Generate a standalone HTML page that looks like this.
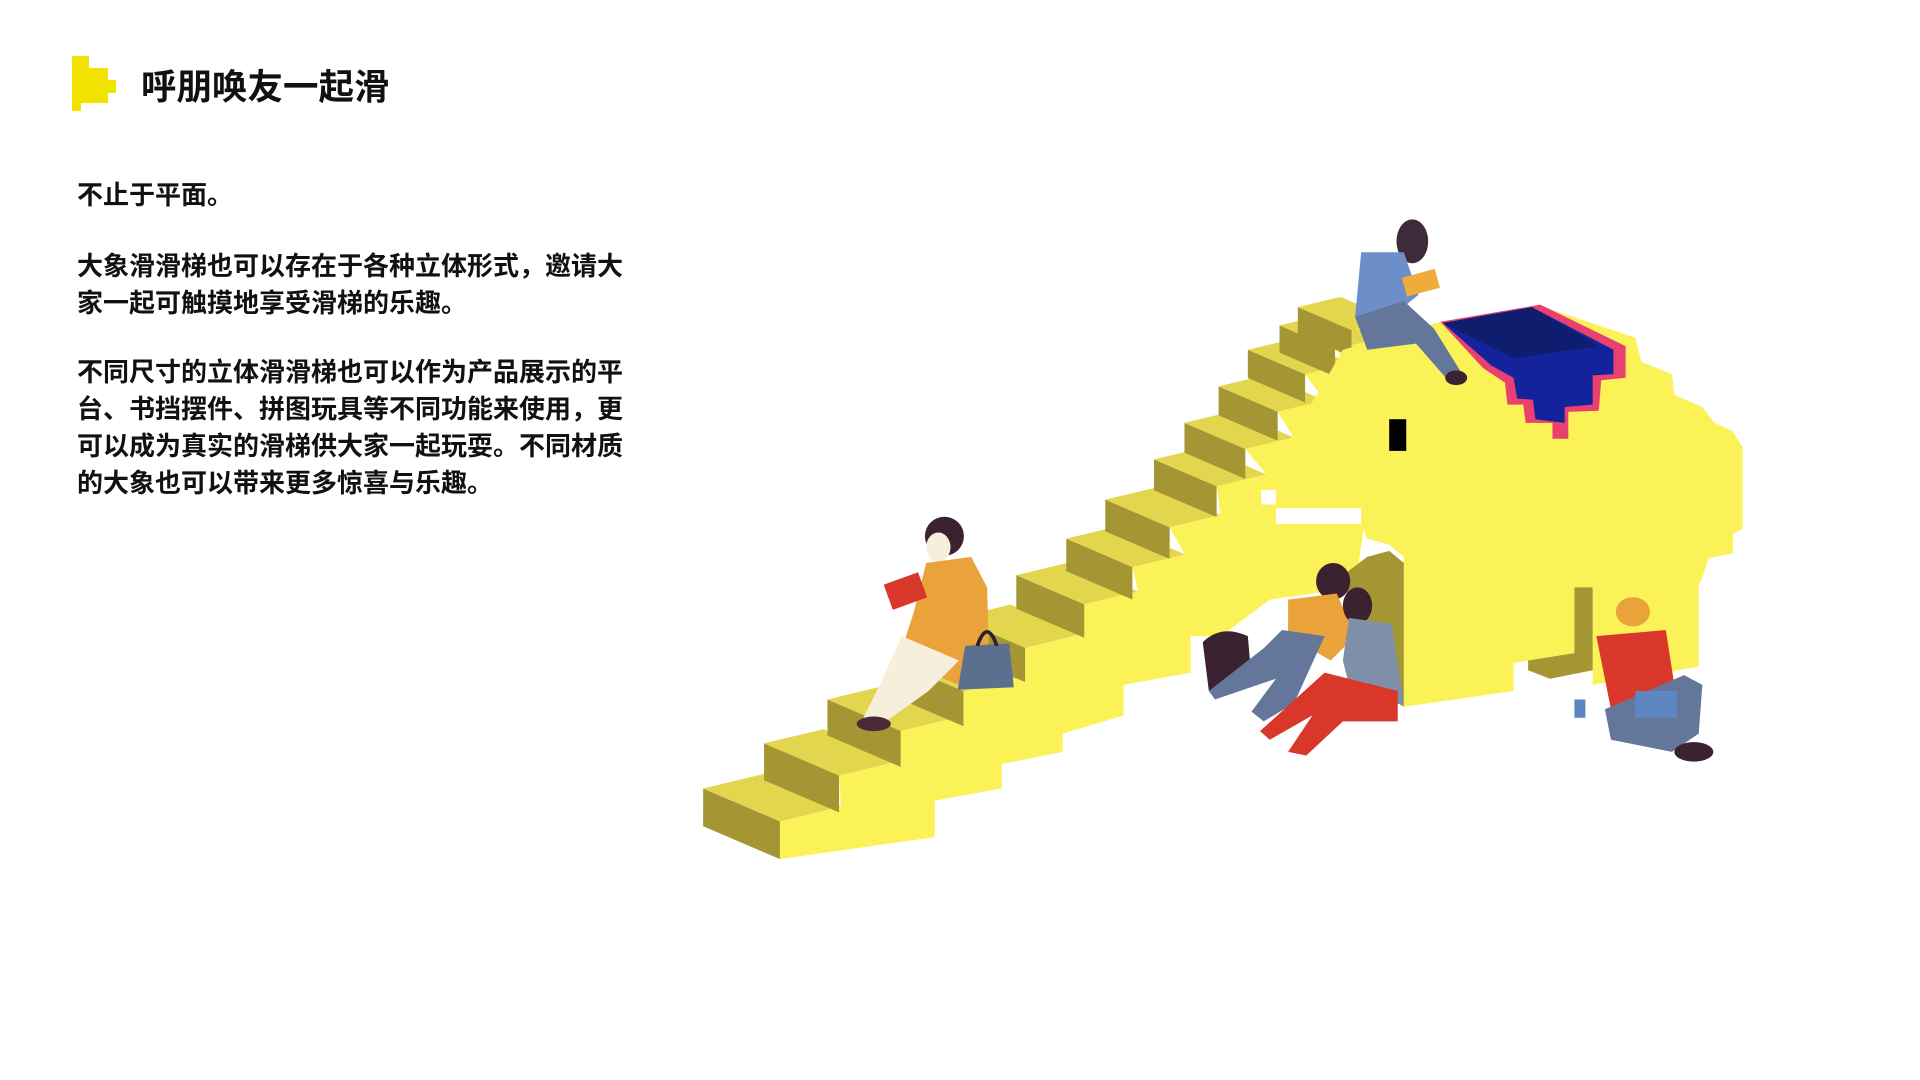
<!DOCTYPE html>
<html><head><meta charset="utf-8"><style>
html,body{margin:0;padding:0;background:#fff;}
body{width:1920px;height:1080px;position:relative;overflow:hidden;font-family:"Liberation Sans","Noto Sans CJK SC",sans-serif;}
.t{position:absolute;left:77px;font-size:26px;font-weight:bold;color:#111;white-space:nowrap;line-height:37px;}
</style></head><body>
<div style="position:absolute;left:0;top:0;">
<div style="position:absolute;left:72px;top:56px;width:17px;height:47px;background:#f2e200"></div>
<div style="position:absolute;left:72px;top:103px;width:9px;height:8px;background:#f2e200"></div>
<div style="position:absolute;left:89px;top:68px;width:19px;height:35px;background:#f2e200"></div>
<div style="position:absolute;left:108px;top:80px;width:8px;height:13px;background:#f2e200"></div>
</div>
<div style="position:absolute;left:141px;top:64px;font-size:35.5px;font-weight:bold;color:#111;white-space:nowrap;line-height:46px;">呼朋唤友一起滑</div>
<div class="t" style="top:177px">不止于平面。</div>
<div class="t" style="top:248px">大象滑滑梯也可以存在于各种立体形式，邀请大<br>家一起可触摸地享受滑梯的乐趣。</div>
<div class="t" style="top:354px">不同尺寸的立体滑滑梯也可以作为产品展示的平<br>台、书挡摆件、拼图玩具等不同功能来使用，更<br>可以成为真实的滑梯供大家一起玩耍。不同材质<br>的大象也可以带来更多惊喜与乐趣。</div>

<svg style="position:absolute;left:0;top:0" width="1920" height="1080" viewBox="0 0 1552 873" preserveAspectRatio="none">
<g transform="translate(2,2) scale(0.985)">
<g id="stairs"></g>
<g>
<polygon fill="#fbf257" points="1100,285 1180,262 1265,250 1340,275 1345,295 1370,305 1372,322 1395,332 1405,345 1420,352 1428,365 1428,432 1420,436 1420,452 1400,456 1395,472 1392,478 1392,545 1305,560 1305,480 1290,480 1290,534 1240,542 1240,565 1150,578 1150,455 1138,445 1120,440 1115,428 1045,428 1045,415 1030,410 1030,395 1050,385 1060,350 1080,320"/>
<polygon fill="#a39633" points="1252,540 1290,534 1290,480 1305,480 1305,548 1270,555 1252,548"/>
<polygon fill="#a39633" points="1100,470 1120,455 1138,450 1150,460 1150,578 1120,560"/>
<rect x="1045" y="415" width="70" height="13" fill="#fff"/>
<rect x="1033" y="400" width="12" height="12" fill="#fff"/>
<rect x="1138" y="342" width="14" height="26" fill="#000"/>
<polygon fill="#e8416f" points="1180,262 1262,248 1332,282 1332,308 1312,310 1310,335 1285,336 1285,358 1272,358 1272,345 1250,345 1248,330 1235,330 1233,312 1215,300"/>
<polygon fill="#13239c" points="1182,263 1255,250 1322,285 1322,305 1305,306 1305,330 1282,332 1282,345 1258,342 1256,326 1243,325 1240,308 1222,298"/>
<polygon fill="#0f1d6e" points="1182,263 1255,250 1310,282 1240,292"/>
</g>
<g>
<ellipse cx="1157" cy="196" rx="13" ry="18" fill="#3f2a3a"/>
<path d="M1115,205 L1150,205 L1162,240 L1135,262 L1110,258 Z" fill="#6d8fc9"/>
<path d="M1110,258 L1150,245 L1175,268 L1198,305 L1188,312 L1160,280 L1120,285 Z" fill="#64769a"/>
<rect x="1150" y="222" width="28" height="16" fill="#eeac3a" transform="rotate(-15 1164 230)"/>
<ellipse cx="1193" cy="308" rx="9" ry="6" fill="#3a2230"/>
</g>
<g>
<ellipse cx="773" cy="438" rx="16" ry="16" fill="#3a2230"/>
<ellipse cx="768" cy="447" rx="10" ry="12" fill="#f5efdc"/>
<path d="M758,460 L795,455 L808,480 L810,545 L785,560 L735,540 L748,500 Z" fill="#eaa33a"/>
<path d="M738,520 L785,540 L760,565 L722,592 L706,588 L720,560 Z" fill="#f5efdc"/>
<rect x="726" y="472" width="30" height="22" fill="#d9372a" transform="rotate(-20 741 483)"/>
<ellipse cx="715" cy="592" rx="14" ry="6" fill="#4a2a3a"/>
<path d="M790,528 L826,526 L830,562 L784,564 Z" fill="#5b6f8e"/>
<path d="M800,528 Q808,505 816,528" stroke="#2a2030" stroke-width="3" fill="none"/>
</g>
<g>
<path d="M985,525 Q1000,510 1022,520 L1025,555 L990,565 Z" fill="#3a2230"/>
<ellipse cx="1092" cy="475" rx="14" ry="15" fill="#3a2230"/>
<path d="M1055,490 L1095,485 L1110,520 L1090,540 L1055,520 Z" fill="#eaa33a"/>
<path d="M1050,515 L1085,520 L1060,575 L1035,590 L1025,582 L1045,555 L995,572 L990,565 L1035,530 Z" fill="#64769a"/>
<ellipse cx="1112" cy="495" rx="12" ry="15" fill="#3a2230"/>
<path d="M1105,505 L1140,510 L1150,575 L1110,580 L1100,540 Z" fill="#7f8fa8"/>
<path d="M1085,550 L1145,565 L1145,590 L1100,590 L1070,618 L1055,615 L1075,585 L1040,605 L1032,598 Z" fill="#d9372a"/>
</g>
<g>
<ellipse cx="1338" cy="500" rx="14" ry="12" fill="#eaa33a"/>
<path d="M1308,520 L1365,515 L1372,560 L1320,580 Z" fill="#d9372a"/>
<path d="M1315,580 L1380,552 L1395,560 L1392,600 L1370,615 L1320,605 Z" fill="#64769a"/>
<rect x="1340" y="565" width="34" height="22" fill="#5f86c2"/>
<ellipse cx="1388" cy="615" rx="16" ry="8" fill="#3a2230"/>
<rect x="1290" y="572" width="9" height="15" fill="#5f86c2"/>
</g>
</g>
</svg>
<script>
const NS='http://www.w3.org/2000/svg';
const stepL=[[575,645],[625,608],[677,572],[730,540],[782,505],[832,470],[873,440],[905,408],[945,375],[970,345],[998,315],[1022,285],[1048,265],[1063,250]];
const g=document.getElementById('stairs');
function poly(pts,fill,name){const p=document.createElementNS(NS,'polygon');p.setAttribute('points',pts.map(q=>q.join(',')).join(' '));p.setAttribute('fill',fill);


g.appendChild(p);}
const sideTop=[];
stepL.forEach((L,i)=>{const s=1-0.3*i/13;const F=[L[0]+63*s,L[1]+27*s];const R=[F[0]+50*s,F[1]-12*s];sideTop.push(F,R);});
const sideBottom=[[1110,480],[1040,490],[1000,520],[975,520],[975,550],[920,560],[920,585],[870,600],[870,615],[820,625],[820,645],[765,655],[765,685],[638,703]];
poly(sideTop.concat(sideBottom),'#fbf257','stairs-side');
stepL.forEach((L,i)=>{const s=1-0.3*i/13;const F=[L[0]+63*s,L[1]+27*s];const B=[L[0]+50*s,L[1]-12*s];const R=[F[0]+50*s,F[1]-12*s];const h=31*s;
poly([L,F,[F[0],F[1]+h],[L[0],L[1]+h]],'#a39633','step-riser');
poly([L,B,R,F],'#e3d64e','step-tread');});
</script>
</body></html>
